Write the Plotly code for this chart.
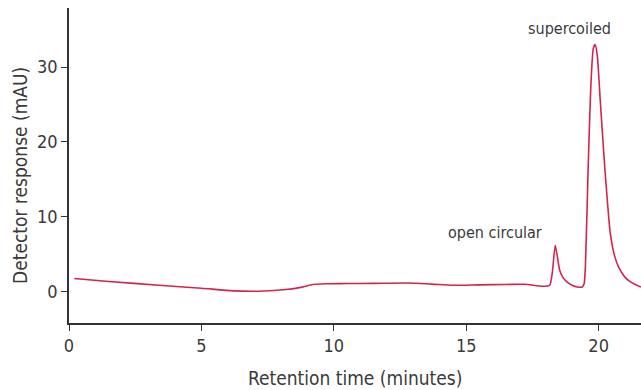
import plotly.graph_objects as go

# Chromatogram trace: retention time (min) vs detector response (mAU)
retention_time = [0.2, 1.5, 3.4, 5.0, 6.2, 7.2, 8.2, 8.8, 9.2, 9.7, 10.5, 11.5, 12.75,
                  13.7, 14.5, 15.5, 16.5, 17.2, 17.9, 18.15, 18.25, 18.36, 18.45, 18.53,
                  18.65, 18.8, 19.0, 19.2, 19.38, 19.45, 19.5, 19.6, 19.7, 19.8, 19.87,
                  19.95, 20.06, 20.23, 20.44, 20.6, 20.75, 21.0, 21.2, 21.6]
response = [1.74, 1.35, 0.84, 0.45, 0.1, 0.05, 0.27, 0.6, 0.94, 1.05, 1.07, 1.1, 1.15,
            1.0, 0.84, 0.9, 0.95, 0.98, 0.71, 0.85, 2.5, 6.2, 4.5, 2.85,
            1.9, 1.3, 0.85, 0.62, 0.62, 1.0, 3.3, 16.0, 27.0, 32.5, 33.0,
            31.5, 25.6, 16.7, 7.8, 4.8, 3.3, 1.9, 1.3, 0.6]

x_ticks = [0, 5, 10, 15, 20]
y_ticks = [0, 10, 20, 30]

peak_labels = ["open circular", "supercoiled"]
peak_label_x = [16.07, 18.9]
peak_label_y = [7.9, 35.1]

FONT = "Liberation Sans Narrow, DejaVu Sans Condensed, Arial Narrow, sans-serif"
TEXT = "#3a3a3a"
AXIS = "#333333"

fig = go.Figure()
fig.add_trace(go.Scatter(
    x=retention_time, y=response, mode="lines",
    line=dict(color="#d4234d", width=1.6, shape="spline", smoothing=0.6),
    hoverinfo="skip", showlegend=False,
))

for txt, px, py in zip(peak_labels, peak_label_x, peak_label_y):
    fig.add_annotation(x=px, y=py, text=txt, showarrow=False,
                       font=dict(family=FONT, size=16, color=TEXT))

# axis titles placed as annotations for precise positioning
fig.add_annotation(xref="paper", yref="paper", x=0.5, y=-0.175, yanchor="middle",
                   text="Retention time (minutes)", showarrow=False,
                   font=dict(family=FONT, size=19, color=TEXT))
fig.add_annotation(xref="paper", yref="paper", x=-0.0857, y=0.47, xanchor="center",
                   text="Detector response (mAU)", textangle=-90, showarrow=False,
                   font=dict(family=FONT, size=19, color=TEXT))

fig.update_xaxes(range=[0, 21.6], tickvals=x_ticks, showline=True, linecolor=AXIS,
                 linewidth=1.5, ticks="outside", ticklen=6, tickcolor=AXIS,
                 tickwidth=1.2, showgrid=False, zeroline=False,
                 tickfont=dict(family=FONT, size=18, color=TEXT))
fig.update_yaxes(range=[-4.2, 37.9], tickvals=y_ticks, showline=True, linecolor=AXIS,
                 linewidth=1.5, ticks="outside", ticklen=6, tickcolor=AXIS,
                 tickwidth=1.2, showgrid=False, zeroline=False,
                 tickfont=dict(family=FONT, size=18, color=TEXT))

fig.update_layout(width=641, height=390, margin=dict(l=69, r=0, t=8, b=67),
                  paper_bgcolor="white", plot_bgcolor="white")

fig.write_html("out.html")
